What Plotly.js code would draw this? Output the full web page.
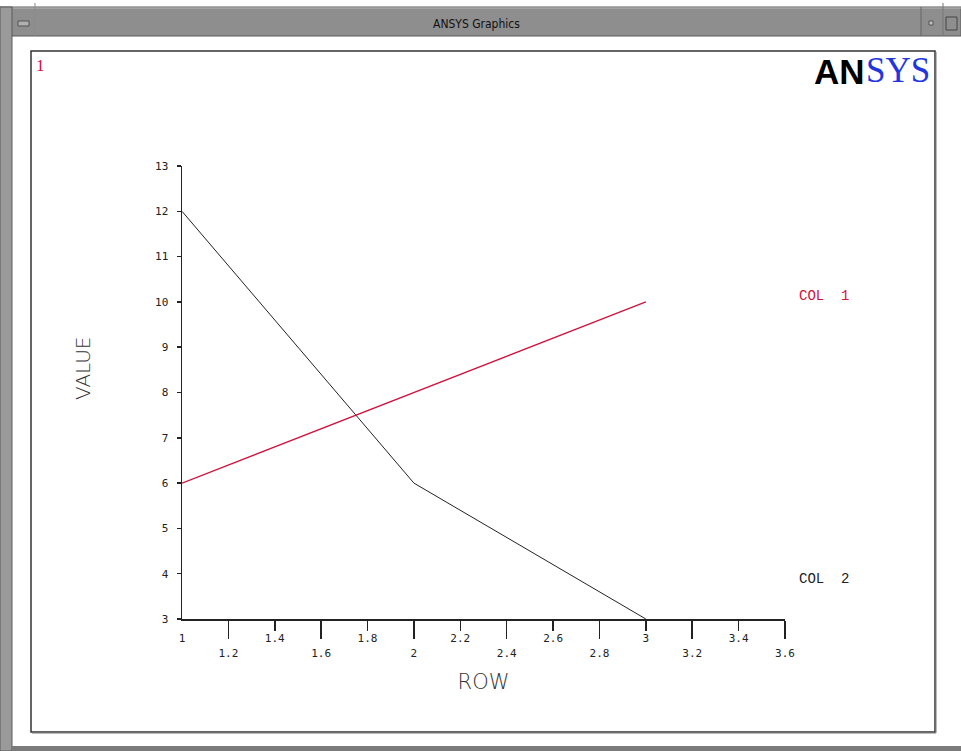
<!DOCTYPE html>
<html>
<head>
<meta charset="utf-8">
<script src="https://cdn.plot.ly/plotly-3.0.1.min.js"></script>
<style>html,body{margin:0;padding:0;background:#fff;}#chart{width:961px;height:751px;}</style>
</head>
<body>
<div id="chart"></div>
<script>
// ---- data ----
var rows = [1, 2, 3];
var col1 = [6, 8, 10];
var col2 = [12, 6, 3];
var seriesNames = ['COL  1', 'COL  2'];
var xTicksLower = [1.2, 1.6, 2, 2.4, 2.8, 3.2, 3.6];
var xTicksUpper = [1, 1.4, 1.8, 2.2, 2.6, 3, 3.4];
var xTicksUpperMarks = [1.4, 1.8, 2.2, 2.6, 3, 3.4];
var yTicks = [3, 4, 5, 6, 7, 8, 9, 10, 11, 12, 13];
var windowTitle = 'ANSYS Graphics';
var xTitle = 'ROW';
var yTitle = 'VALUE';
var windowNumber = '1';

// ---- layout helpers (pixel -> paper) ----
var W = 961, H = 751;
function px(x){ return x / W; }
function py(y){ return 1 - y / H; }

var RED = '#d0123c';
var INK = '#222222';
var tickFont = {family: 'DejaVu Sans Mono', size: 11, color: INK};

var traces = [
  {x: rows, y: col1, type: 'scatter', mode: 'lines', name: seriesNames[0],
   line: {color: RED, width: 1.3}, xaxis: 'x2', yaxis: 'y', hoverinfo: 'skip'},
  {x: rows, y: col2, type: 'scatter', mode: 'lines', name: seriesNames[1],
   line: {color: INK, width: 1}, xaxis: 'x', yaxis: 'y', hoverinfo: 'skip'}
];

var shapes = [
  // title bar
  {type:'rect', xref:'paper', yref:'paper', x0:px(0), x1:px(961), y0:py(7), y1:py(36),
   fillcolor:'#8e8e8e', line:{color:'#5a5a5a', width:1}, layer:'below'},
  {type:'line', xref:'paper', yref:'paper', x0:px(13), x1:px(961), y0:py(8), y1:py(8),
   line:{color:'#b8b8b8', width:1}},
  // left border
  {type:'rect', xref:'paper', yref:'paper', x0:px(0), x1:px(12), y0:py(7), y1:py(751),
   fillcolor:'#9a9a9a', line:{color:'#5a5a5a', width:1}, layer:'below'},
  // bottom border
  {type:'rect', xref:'paper', yref:'paper', x0:px(12), x1:px(961), y0:py(746), y1:py(751),
   fillcolor:'#7a7a7a', line:{width:0}, layer:'below'},
  // title bar dividers & buttons
  {type:'line', xref:'paper', yref:'paper', x0:px(35), x1:px(35), y0:py(3), y1:py(36),
   line:{color:'#8a8a8a', width:1}},
  {type:'rect', xref:'paper', yref:'paper', x0:px(18), x1:px(29), y0:py(21), y1:py(26),
   fillcolor:'#b0b0b0', line:{color:'#555', width:1}},
  {type:'line', xref:'paper', yref:'paper', x0:px(921), x1:px(921), y0:py(7), y1:py(36),
   line:{color:'#666', width:1}},
  {type:'line', xref:'paper', yref:'paper', x0:px(943), x1:px(943), y0:py(3), y1:py(36),
   line:{color:'#777', width:1}},
  {type:'rect', xref:'paper', yref:'paper', x0:px(929), x1:px(933), y0:py(21), y1:py(25),
   fillcolor:'#c0c0c0', line:{color:'#555', width:1}},
  {type:'rect', xref:'paper', yref:'paper', x0:px(946), x1:px(957), y0:py(17), y1:py(30),
   fillcolor:'rgba(0,0,0,0)', line:{color:'#444', width:1}},
  // inner frame
  {type:'rect', xref:'paper', yref:'paper', x0:px(31), x1:px(935), y0:py(51), y1:py(732),
   fillcolor:'rgba(0,0,0,0)', line:{color:'#333', width:1.5}},
  {type:'line', xref:'paper', yref:'paper', x0:px(32), x1:px(936), y0:py(733), y1:py(733),
   line:{color:'#777', width:1}},
  {type:'line', xref:'paper', yref:'paper', x0:px(936), x1:px(936), y0:py(52), y1:py(733),
   line:{color:'#777', width:1}}
];

var annotations = [
  {text: windowTitle, xref:'paper', yref:'paper', x:px(476), y:py(24), xanchor:'center', yanchor:'middle',
   showarrow:false, font:{family:'Liberation Sans Narrow, DejaVu Sans Condensed, Liberation Sans', size:12, color:'#111'}},
  {text: windowNumber, xref:'paper', yref:'paper', x:px(40), y:py(66), xanchor:'center', yanchor:'middle',
   showarrow:false, font:{family:'Liberation Serif', size:17, color:RED}},
  {text: 'AN', xref:'paper', yref:'paper', x:px(867), y:py(71), xanchor:'right', yanchor:'middle',
   showarrow:false, font:{family:'Liberation Sans', size:35, weight:900, color:'#000'}},
  {text: 'SYS', xref:'paper', yref:'paper', x:px(864), y:py(70), xanchor:'left', yanchor:'middle',
   showarrow:false, font:{family:'Liberation Serif', size:35, color:'#2236e0'}},
  {text: seriesNames[0], xref:'paper', yref:'paper', x:px(797), y:py(296), xanchor:'left', yanchor:'middle',
   showarrow:false, font:{family:'Liberation Mono', size:14, color:RED}},
  {text: seriesNames[1], xref:'paper', yref:'paper', x:px(797), y:py(579), xanchor:'left', yanchor:'middle',
   showarrow:false, font:{family:'Liberation Mono', size:14, color:INK}},
  {text: yTitle, xref:'paper', yref:'paper', x:px(83), y:py(368), xanchor:'center', yanchor:'middle',
   textangle: -90, showarrow:false, font:{family:'DejaVu Sans', size:20, weight:300, color:'#333'}}
];

var layout = {
  width: W, height: H,
  margin: {l:0, r:0, t:0, b:0},
  paper_bgcolor: '#ffffff', plot_bgcolor: 'rgba(0,0,0,0)',
  showlegend: false,
  xaxis: {
    domain: [px(182), px(785)], range: [1, 3.6], anchor: 'y',
    showgrid: false, zeroline: false, showline: true, linecolor: INK, linewidth: 1.5,
    tickmode: 'array', tickvals: xTicksLower, ticktext: xTicksLower.map(String),
    ticks: 'outside', ticklen: 18, tickwidth: 1.5, tickcolor: INK,
    ticklabelstandoff: 5,
    minor: {tickmode: 'array', tickvals: xTicksUpperMarks, ticks: 'outside', ticklen: 10,
            tickwidth: 1.5, tickcolor: INK, showgrid: false},
    tickfont: tickFont, automargin: false,
    title: {text: xTitle, standoff: 15, font: {family: 'DejaVu Sans', size: 21, weight: 300, color: '#333'}}
  },
  xaxis2: {
    domain: [px(182), px(785)], range: [1, 3.6], overlaying: 'x', anchor: 'y', side: 'bottom',
    showgrid: false, zeroline: false, showline: false,
    tickmode: 'array', tickvals: xTicksUpper, ticktext: xTicksUpper.map(String),
    ticks: '', ticklabelstandoff: 11,
    tickfont: tickFont, automargin: false
  },
  yaxis: {
    domain: [py(619), py(166)], range: [3, 13],
    showgrid: false, zeroline: false, showline: true, linecolor: INK, linewidth: 1.5,
    tickmode: 'array', tickvals: yTicks, ticktext: yTicks.map(String),
    ticks: 'outside', ticklen: 4, tickwidth: 1.5, tickcolor: INK,
    ticklabelstandoff: 6,
    tickfont: tickFont, automargin: false
  },
  shapes: shapes,
  annotations: annotations
};

Plotly.newPlot('chart', traces, layout, {staticPlot: true, displayModeBar: false});
</script>
</body>
</html>
